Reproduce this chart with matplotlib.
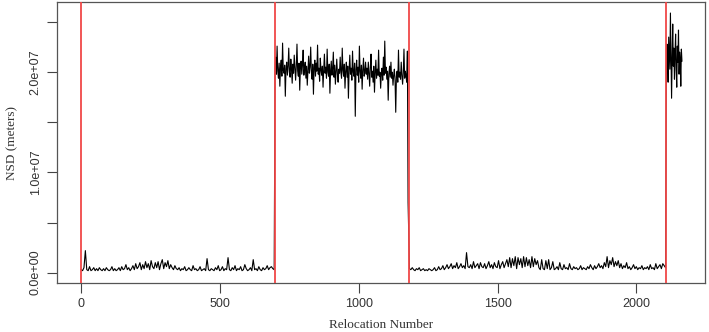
import numpy as np
import matplotlib.pyplot as plt

# NSD values in millions of square metres
seg1 = [0.3, 0.2, 0.5, 2.2, 0.3, 0.2, 0.6, 0.2, 0.3, 0.5, 0.2, 0.4, 0.2, 0.5, 0.3, 0.2, 0.4, 0.2, 0.5, 0.3,
        0.2, 0.3, 0.6, 0.2, 0.4, 0.2, 0.3, 0.5, 0.2, 0.6, 0.3, 0.4, 0.8, 0.3, 0.5, 0.2, 0.4, 0.7, 0.3, 0.9,
        0.4, 0.6, 1.0, 0.3, 0.8, 0.4, 1.1, 0.5, 0.9, 0.3, 1.2, 0.6, 0.4, 1.0, 0.5, 1.1, 0.3, 0.9, 1.3, 0.4,
        1.0, 0.6, 1.2, 0.4, 0.8, 0.5, 0.3, 0.7, 0.4, 0.3, 0.5, 0.2, 0.4, 0.3, 0.6, 0.2, 0.3, 0.5, 0.3, 0.2,
        0.7, 0.3, 0.4, 0.2, 0.3, 0.6, 0.2, 0.3, 0.4, 0.2, 1.4, 0.3, 0.2, 0.4, 0.3, 0.2, 0.5, 0.3, 0.7, 0.2,
        0.3, 0.6, 0.2, 0.4, 0.3, 1.5, 0.3, 0.2, 0.5, 0.3, 0.7, 0.2, 0.4, 0.3, 0.6, 0.2, 0.3, 0.8, 0.4, 0.2,
        0.3, 0.5, 0.2, 1.3, 0.3, 0.4, 0.2, 0.6, 0.3, 0.2, 0.5, 0.3, 0.4, 0.7, 0.3, 0.5, 0.6, 0.4, 0.3]
seg2 = [20.3, 21.5, 19.8, 22.6, 20.1, 19.4, 20.9, 18.6, 20.5, 21.2, 19.6, 22.9, 20.2, 19.9, 20.7, 17.6, 20.4, 21.0, 19.7, 20.6,
        22.4, 20.0, 19.5, 21.3, 20.3, 18.9, 20.8, 19.9, 21.7, 20.4, 19.2, 20.6, 22.8, 20.1, 19.6, 20.9, 18.2, 20.5, 21.1, 19.8,
        20.7, 22.2, 19.7, 20.3, 21.0, 19.4, 20.6, 18.7, 20.2, 21.6, 19.9, 20.5, 22.5, 20.0, 19.3, 20.8, 17.8, 20.4, 21.2, 19.6,
        20.9, 20.1, 22.7, 19.8, 20.4, 19.1, 21.4, 20.2, 19.7, 20.6, 18.5, 20.3, 21.8, 19.9, 20.5, 19.4, 22.3, 20.0, 19.6, 20.8,
        17.9, 20.2, 21.1, 19.7, 20.4, 22.0, 19.5, 20.7, 18.8, 20.1, 21.3, 19.8, 19.0, 20.3, 19.9, 21.5, 20.0, 19.4, 22.4, 20.2,
        19.6, 20.8, 18.4, 20.1, 21.0, 19.5, 20.6, 17.4, 20.2, 21.7, 19.8, 20.4, 19.2, 22.1, 20.0, 19.6, 20.9, 15.6, 20.3, 21.2,
        19.7, 20.5, 19.0, 22.6, 20.1, 19.4, 20.7, 18.3, 20.2, 21.4, 19.6, 20.0, 21.0, 19.8, 20.4, 19.3, 21.0, 19.9, 18.6, 20.5,
        21.8, 19.5, 20.1, 19.0, 20.6, 18.0, 19.9, 21.2, 19.4, 20.3, 19.7, 22.2, 19.6, 20.0, 18.4, 19.8, 20.4, 19.2, 21.5, 19.7,
        23.1, 19.9, 20.5, 19.3, 20.1, 17.2, 19.8, 20.6, 19.5, 21.0, 19.4, 20.0, 18.7, 19.7, 20.3, 19.2, 16.0, 19.6, 20.1, 19.0,
        22.2, 19.5, 20.0, 19.3, 21.0, 19.7, 18.8, 19.9, 22.3, 19.4, 20.1, 19.6, 19.0, 22.1, 7.0]
seg3 = [0.4, 0.3, 0.5, 0.3, 0.2, 0.4, 0.3, 0.5, 0.2, 0.3, 0.4, 0.2, 0.3, 0.2, 0.4, 0.3, 0.2, 0.3, 0.5, 0.2,
        0.3, 0.6, 0.3, 0.4, 0.7, 0.3, 0.5, 0.8, 0.4, 0.6,
        0.9, 0.4, 0.7, 0.5, 1.0, 0.4, 0.6, 0.9, 0.5, 0.7, 0.4, 2.0, 0.6, 0.5, 0.8, 0.4, 1.1, 0.5, 0.7, 0.9,
        0.4, 1.0, 0.6, 0.5, 0.9, 0.4, 0.7, 1.1, 0.5, 0.8, 0.4, 1.0, 0.6, 0.5, 1.2, 0.4, 0.8, 1.1, 0.5, 0.9,
        1.3, 0.6,
        1.5, 0.5, 1.4, 0.7, 1.6, 0.4, 1.5, 0.8, 1.4, 0.5, 1.6, 0.6, 1.5, 0.7, 1.3, 0.5, 1.6, 0.6, 1.4, 0.8,
        1.2, 0.5,
        0.3, 1.3, 0.4, 0.3, 1.2, 0.4, 1.3, 0.3, 0.5, 1.1,
        0.3, 0.4, 0.6, 0.3, 1.0, 0.4, 0.3, 0.8, 0.4, 0.5, 0.3, 0.9, 0.4, 0.3, 0.6, 0.4, 0.5, 0.3, 0.4, 0.7,
        0.3, 0.5, 0.4, 0.3, 0.6, 0.4, 0.8, 0.5, 0.3, 0.7, 0.4, 0.6, 0.9, 0.5, 0.7, 0.4, 1.0, 0.6,
        1.6, 0.5, 1.2, 0.8, 1.5, 0.6, 1.1, 0.7,
        1.2, 0.5, 0.9, 0.4, 0.7, 0.5, 1.0, 0.4, 0.6, 0.3, 0.5, 0.8, 0.4, 0.6, 0.3, 0.5, 0.4, 0.7, 0.3, 0.5,
        0.4, 0.6, 0.3, 0.8, 0.4, 0.5, 0.3, 0.9, 0.4, 0.6, 0.8, 0.4, 0.9, 0.7, 0.5]
seg4 = [20.5, 22.8, 21.2, 19.0, 23.5, 21.8, 20.3, 25.9, 22.0, 17.4, 21.5, 24.8, 20.6, 22.4,
        19.3, 21.9, 23.8, 20.2, 18.5, 22.6, 21.0, 24.2, 19.8, 22.0, 21.3, 18.6, 22.3, 21.1]

# relocation number ranges of each segment
seg_ranges = [(1, 696), (699, 1178), (1183, 2105), (2108, 2164)]
breaks = [0, 698, 1181, 2107]

xs, ys = [], []
for vals, (a, b) in zip([seg1, seg2, seg3, seg4], seg_ranges):
    xs.append(np.linspace(a, b, len(vals)))
    ys.append(np.array(vals) * 1e6)
x = np.concatenate(xs)
y = np.concatenate(ys)

plt.rcParams['font.family'] = ['Liberation Sans', 'DejaVu Sans']
fig = plt.figure(figsize=(7.09, 3.32), dpi=100)
ax = fig.add_axes([57 / 709, 49 / 332, 648 / 709, 281 / 332])

ax.plot(x, y, color='black', lw=0.8, zorder=2)
for b in breaks:
    ax.axvline(b, color='#f04848', lw=1.3, zorder=3)

ax.set_xlim(-86, 2247)
ax.set_ylim(-1.03e6, 2.70e7)

ax.set_xticks([0, 500, 1000, 1500, 2000])
ax.set_yticks([0, 5e6, 1e7, 1.5e7, 2e7, 2.5e7])
ax.set_yticklabels(['0.0e+00', '', '1.0e+07', '', '2.0e+07', ''], rotation=90, va='center')
ax.tick_params(length=7, width=0.8, color='#444444', labelcolor='#333333', labelsize=9, pad=4)
for s in ax.spines.values():
    s.set_color('#555555')
    s.set_linewidth(0.9)

ax.set_xlabel('Relocation Number', family='Liberation Serif', fontsize=9.5, color='#333333', labelpad=6)
ax.set_ylabel('NSD (meters)', family='Liberation Serif', fontsize=9.5, color='#333333', labelpad=8)

fig.savefig('out.png', dpi=100)
